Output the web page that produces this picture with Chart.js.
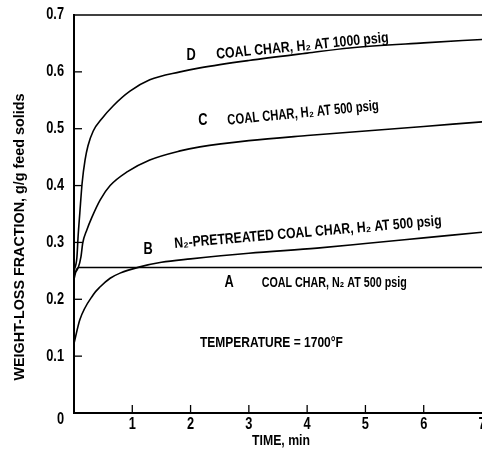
<!DOCTYPE html>
<html><head><meta charset="utf-8">
<script src="https://cdn.jsdelivr.net/npm/chart.js@4"></script>
<style>html,body{margin:0;padding:0;background:#fff;overflow:hidden}#wrap{width:482px;height:449px;position:relative}</style>
</head><body><div id="wrap"><canvas id="c"></canvas></div>
<script>
// ---- data ----
const timeA = [0, 0.04, 0.08, 1, 2, 3, 4, 5, 6, 7];
const fracA = [0.235, 0.252, 0.256, 0.256, 0.256, 0.256, 0.256, 0.256, 0.256, 0.256];
const timeB = [0, 0.1, 0.33, 0.45, 0.62, 0.79, 1.13, 1.5, 2, 3, 4.17, 5, 6, 7];
const fracB = [0.122, 0.164, 0.208, 0.222, 0.237, 0.246, 0.257, 0.265, 0.271, 0.281, 0.29, 0.298, 0.308, 0.318];
const timeC = [0, 0.07, 0.12, 0.15, 0.22, 0.31, 0.45, 0.62, 0.91, 1.3, 1.82, 2.16, 3, 4, 5, 6, 7];
const fracC = [0.245, 0.255, 0.275, 0.299, 0.322, 0.345, 0.375, 0.40, 0.424, 0.445, 0.461, 0.468, 0.479, 0.488, 0.496, 0.504, 0.512];
const timeD = [0, 0.05, 0.07, 0.10, 0.14, 0.19, 0.24, 0.33, 0.48, 0.67, 0.96, 1.3, 1.82, 2.16, 3, 4, 4.73, 6, 7];
const fracD = [0.25, 0.274, 0.31, 0.352, 0.405, 0.445, 0.47, 0.496, 0.518, 0.54, 0.566, 0.586, 0.60, 0.607, 0.62, 0.633, 0.642, 0.651, 0.657];
const xTicks = [1, 2, 3, 4, 5, 6, 7];
const yTicks = [0, 0.1, 0.2, 0.3, 0.4, 0.5, 0.6, 0.7];
const xTitle = 'TIME, min';
const yTitle = 'WEIGHT-LOSS FRACTION, g/g feed solids';
const curveLetters = ['A', 'B', 'C', 'D'];
const curveTexts = [
  'COAL CHAR, N\u2082 AT 500 psig',
  'N\u2082-PRETREATED COAL CHAR, H\u2082 AT 500 psig',
  'COAL CHAR, H\u2082 AT 500 psig',
  'COAL CHAR, H\u2082 AT 1000 psig'
];
const noteText = 'TEMPERATURE = 1700\u00B0F';

// ---- styling / placement (in data units) ----
const FAM = "'Liberation Sans',Arial,sans-serif";
const letterPos = [[2.66, 0.229], [1.27, 0.287], [2.21, 0.514], [2.01, 0.628]];
const textPos = [
  {x: 3.22, y: 0.222, angle: 0, w: 145},
  {x: 1.73, y: 0.290, angle: -4.9, w: 268},
  {x: 2.64, y: 0.507, angle: -5.6, w: 152},
  {x: 2.45, y: 0.623, angle: -5.6, w: 173}
];
const notePos = {x: 2.16, y: 0.123, w: 143};

const pts = (xs, ys) => xs.map((x, i) => ({x, y: ys[i]}));
const mk = (xs, ys) => ({data: pts(xs, ys), borderColor: '#000', borderWidth: 1.6, pointRadius: 0,
  cubicInterpolationMode: 'monotone', fill: false});

function txt(ctx, s, x, y, o) {
  ctx.save();
  ctx.translate(x, y);
  ctx.rotate((o.angle || 0) * Math.PI / 180);
  ctx.font = `bold ${o.size}px ${FAM}`;
  const m = ctx.measureText(s).width;
  if (o.w) ctx.scale(o.w / m, 1);
  else if (o.sx) ctx.scale(o.sx, 1);
  ctx.textAlign = o.align || 'left';
  ctx.textBaseline = o.baseline || 'alphabetic';
  ctx.fillStyle = '#000';
  ctx.fillText(s, 0, 0);
  ctx.restore();
}

const deco = {
  id: 'deco',
  afterDraw(chart) {
    const {ctx, chartArea: a, scales: {x, y}} = chart;
    ctx.save();
    ctx.strokeStyle = '#000';
    ctx.lineWidth = 1.5;
    ctx.beginPath();
    ctx.moveTo(a.left, a.top); ctx.lineTo(a.right, a.top);
    ctx.stroke();
    ctx.lineWidth = 1.3;
    yTicks.forEach(v => { if (v > 0 && v < 0.7) { const p = y.getPixelForValue(v);
      ctx.beginPath(); ctx.moveTo(a.left, p); ctx.lineTo(a.left + 8, p); ctx.stroke(); }});
    xTicks.forEach(v => { if (v < 7) { const p = x.getPixelForValue(v);
      ctx.beginPath(); ctx.moveTo(p, a.bottom); ctx.lineTo(p, a.bottom - 8); ctx.stroke(); }});
    ctx.restore();
    // tick labels
    yTicks.forEach(v => {
      const s = v === 0 ? '0' : v.toFixed(1);
      txt(ctx, s, a.left - 10, y.getPixelForValue(v) + (v === 0 ? 7 : 0), {size: 16, sx: 0.8, align: 'right', baseline: 'middle'});
    });
    xTicks.forEach(v => txt(ctx, String(v), x.getPixelForValue(v), 425, {size: 16, sx: 0.8, align: 'center', baseline: 'middle'}));
    curveLetters.forEach((L, i) => txt(ctx, L, x.getPixelForValue(letterPos[i][0]), y.getPixelForValue(letterPos[i][1]),
      {size: 16, sx: 0.8, align: 'center', baseline: 'middle'}));
    curveTexts.forEach((s, i) => { const t = textPos[i];
      txt(ctx, s, x.getPixelForValue(t.x), y.getPixelForValue(t.y), {size: 15, angle: t.angle, w: t.w}); });
    txt(ctx, noteText, x.getPixelForValue(notePos.x), y.getPixelForValue(notePos.y), {size: 15, w: notePos.w, baseline: 'middle'});
    txt(ctx, xTitle, (a.left + a.right) / 2 + 3, 441, {size: 14, align: 'center', baseline: 'middle', w: 58});
    txt(ctx, yTitle, 20, 237, {size: 14, angle: -90, align: 'center', baseline: 'middle', w: 287});
  }
};

new Chart(document.getElementById('c'), {
  type: 'line',
  data: {datasets: [mk(timeA, fracA), mk(timeB, fracB), mk(timeC, fracC), mk(timeD, fracD)]},
  options: {
    responsive: true, maintainAspectRatio: false, animation: false,
    layout: {padding: {top: 15, right: 0, left: 0, bottom: 0}},
    plugins: {legend: {display: false}, tooltip: {enabled: false}},
    scales: {
      x: {type: 'linear', min: 0, max: 7,
        afterBuildTicks: s => { s.ticks = xTicks.map(v => ({value: v})); },
        afterFit: s => { s.height = 36; s.paddingLeft = 0; s.paddingRight = 0; },
        grid: {drawOnChartArea: false, drawTicks: false},
        border: {display: true, color: '#000', width: 2},
        ticks: {display: false}},
      y: {type: 'linear', min: 0, max: 0.7,
        afterBuildTicks: s => { s.ticks = yTicks.map(v => ({value: v})); },
        afterFit: s => { s.width = 74; s.paddingTop = 0; s.paddingBottom = 0; },
        grid: {drawOnChartArea: false, drawTicks: false},
        border: {display: true, color: '#000', width: 2},
        ticks: {display: false}}
    }
  },
  plugins: [deco]
});
</script></body></html>
